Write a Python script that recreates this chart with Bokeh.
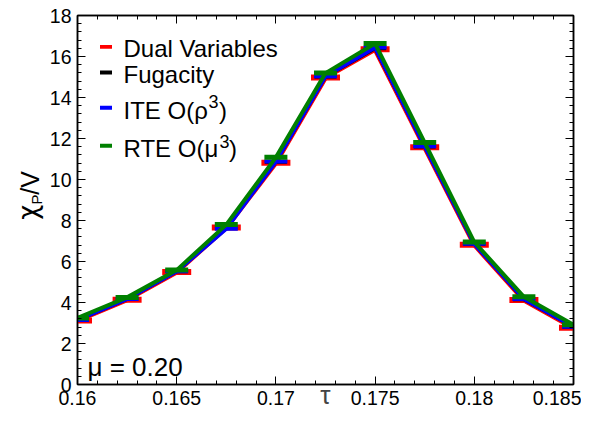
import math
from bokeh.plotting import figure
from bokeh.layouts import row
from bokeh.models import (Range1d, LinearAxis, SingleIntervalTicker,
                          CustomJSTickFormatter, Label, BoxAnnotation)
from bokeh.embed import file_html
from bokeh.resources import INLINE

# ---- data ----
tau = [0.16, 0.1625, 0.165, 0.1675, 0.17, 0.1725, 0.175, 0.1775, 0.18, 0.1825, 0.185]
dual = [3.12, 4.14, 5.49, 7.66, 10.82, 14.98, 16.35, 11.57, 6.82, 4.12, 2.77]
fugacity = [3.13, 4.15, 5.50, 7.63, 10.84, 15.00, 16.38, 11.59, 6.84, 4.14, 2.79]
ite = [3.15, 4.17, 5.52, 7.60, 10.88, 15.04, 16.44, 11.62, 6.86, 4.17, 2.82]
rte = [3.25, 4.25, 5.58, 7.80, 11.08, 15.19, 16.63, 11.80, 6.95, 4.28, 2.91]

series_names = ["Dual Variables", "Fugacity", "ITE O(\u03c1", "RTE O(\u03bc"]
series_colors = ["#ff0000", "#000000", "#0000ff", "#008000"]
x_label = "\u03c4"
y_label_parts = ["\u03c7", "P", "/V"]
mu_text = "\u03bc = 0.20"

FONT = "Liberation Sans"
X0, X1, Y0, Y1 = 0.16, 0.185, 0, 18
SHIFT = 0.3  # empirical baseline correction (fraction of font size)

# ---- narrow strip holding the y-axis title (chi_P / V) ----
ylab = figure(width=45, height=412, output_backend="svg", toolbar_location=None,
              x_range=Range1d(0, 45), y_range=Range1d(412, 0),
              x_axis_location=None, y_axis_location=None,
              min_border=0, min_border_left=0, min_border_right=0,
              min_border_top=0, min_border_bottom=0)
ylab.outline_line_color = None
ylab.xgrid.visible = False
ylab.ygrid.visible = False
ylab.background_fill_color = "white"
ylab.border_fill_color = "white"
for txt, (x, y, size, font) in zip(y_label_parts, [(35, 228, 26, "DejaVu Sans"),
                                                  (40, 211, 15, FONT),
                                                  (37, 200, 25, FONT)]):
    ylab.add_layout(Label(x=x - SHIFT * size, y=y, text=txt, text_font=font,
                          text_font_size=f"{size}px",
                          text_color="black", angle=math.pi / 2,
                          text_align="left", text_baseline="alphabetic"))

# ---- main plot ----
p = figure(width=536, height=412, output_backend="svg", toolbar_location=None,
           x_range=Range1d(X0, X1), y_range=Range1d(Y0, Y1),
           min_border_left=32, min_border_right=8, min_border_top=15,
           min_border_bottom=28)
p.xgrid.visible = False
p.ygrid.visible = False
p.outline_line_color = "black"
p.outline_line_width = 1.5
p.background_fill_color = "white"
p.border_fill_color = "white"

xt = SingleIntervalTicker(interval=0.005, num_minor_ticks=5)
yt = SingleIntervalTicker(interval=2, num_minor_ticks=5)
xfmt = CustomJSTickFormatter(code="return (Math.round(tick*10000)/10000).toString();")
yfmt = CustomJSTickFormatter(code="return Math.round(tick).toString();")
blank = CustomJSTickFormatter(code="return '';")


def style_axis(ax):
    ax.axis_line_color = "black"
    ax.axis_line_width = 1.5
    ax.major_tick_in = 8
    ax.major_tick_out = 0
    ax.minor_tick_in = 4
    ax.minor_tick_out = 0
    ax.major_tick_line_color = "black"
    ax.minor_tick_line_color = "black"
    ax.major_tick_line_width = 1
    ax.minor_tick_line_width = 1
    ax.major_label_text_font = FONT
    ax.major_label_text_color = "black"


for ax in p.xaxis:
    ax.ticker = xt
    ax.formatter = xfmt
    style_axis(ax)
    ax.major_label_text_font_size = "19.5px"
    ax.major_label_standoff = 6
    ax.axis_label = x_label
    ax.axis_label_text_font = FONT
    ax.axis_label_text_font_size = "26px"
    ax.axis_label_text_font_style = "normal"
    ax.axis_label_standoff = -28
for ax in p.yaxis:
    ax.ticker = yt
    ax.formatter = yfmt
    style_axis(ax)
    ax.major_label_text_font_size = "19.5px"
    ax.major_label_standoff = 6

top = LinearAxis(ticker=xt, formatter=blank, major_label_text_font_size="1px",
                 major_label_standoff=0)
style_axis(top)
p.add_layout(top, "above")
right = LinearAxis(ticker=yt, formatter=blank, major_label_text_font_size="1px",
                   major_label_standoff=0)
style_axis(right)
p.add_layout(right, "right")

# ---- data marks ----
p.line(tau, dual, line_color=series_colors[0], line_width=5)
p.scatter(tau, dual, marker="dash", size=29, line_color=series_colors[0], line_width=6)
p.line(tau, fugacity, line_color=series_colors[1], line_width=3)
p.scatter(tau, fugacity, marker="dash", size=22, line_color=series_colors[1], line_width=3)
p.line(tau, ite, line_color=series_colors[2], line_width=4)
p.scatter(tau, ite, marker="dash", size=23, line_color=series_colors[2], line_width=4)
p.line(tau, rte, line_color=series_colors[3], line_width=4)
p.scatter(tau, rte, marker="dash", size=23, line_color=series_colors[3], line_width=5)


# annotation positions given in reference pixels, converted to data units
def dx(px):
    return X0 + (px - 77) / 496 * (X1 - X0)


def dy(py):
    return (388 - py) / 373 * (Y1 - Y0)


def lab(text, px, py, size):
    p.add_layout(Label(x=dx(px), y=dy(py - SHIFT * size), text=text, text_font=FONT,
                       text_font_size=f"{size}px", text_color="black",
                       text_align="left", text_baseline="alphabetic"))


lab(mu_text, 87, 378, 26)

row_c = [46.7, 72.7, 108.3, 146.7]
row_base = [56, 82, 118.3, 156.7]
for i, (name, col) in enumerate(zip(series_names, series_colors)):
    c = row_c[i]
    p.add_layout(BoxAnnotation(left=dx(99.5), right=dx(111.5), top=dy(c - 2), bottom=dy(c + 2),
                               fill_color=col, fill_alpha=1.0, line_color=None))
    lab(name, 123, row_base[i], 24)
lab("3", 208, 107.5, 18)
lab(")", 218.5, 118.3, 24)
lab("3", 219, 147.5, 18)
lab(")", 228.5, 156.7, 24)

layout = row(ylab, p, spacing=0)
open("out.html", "w").write(file_html(layout, INLINE))
